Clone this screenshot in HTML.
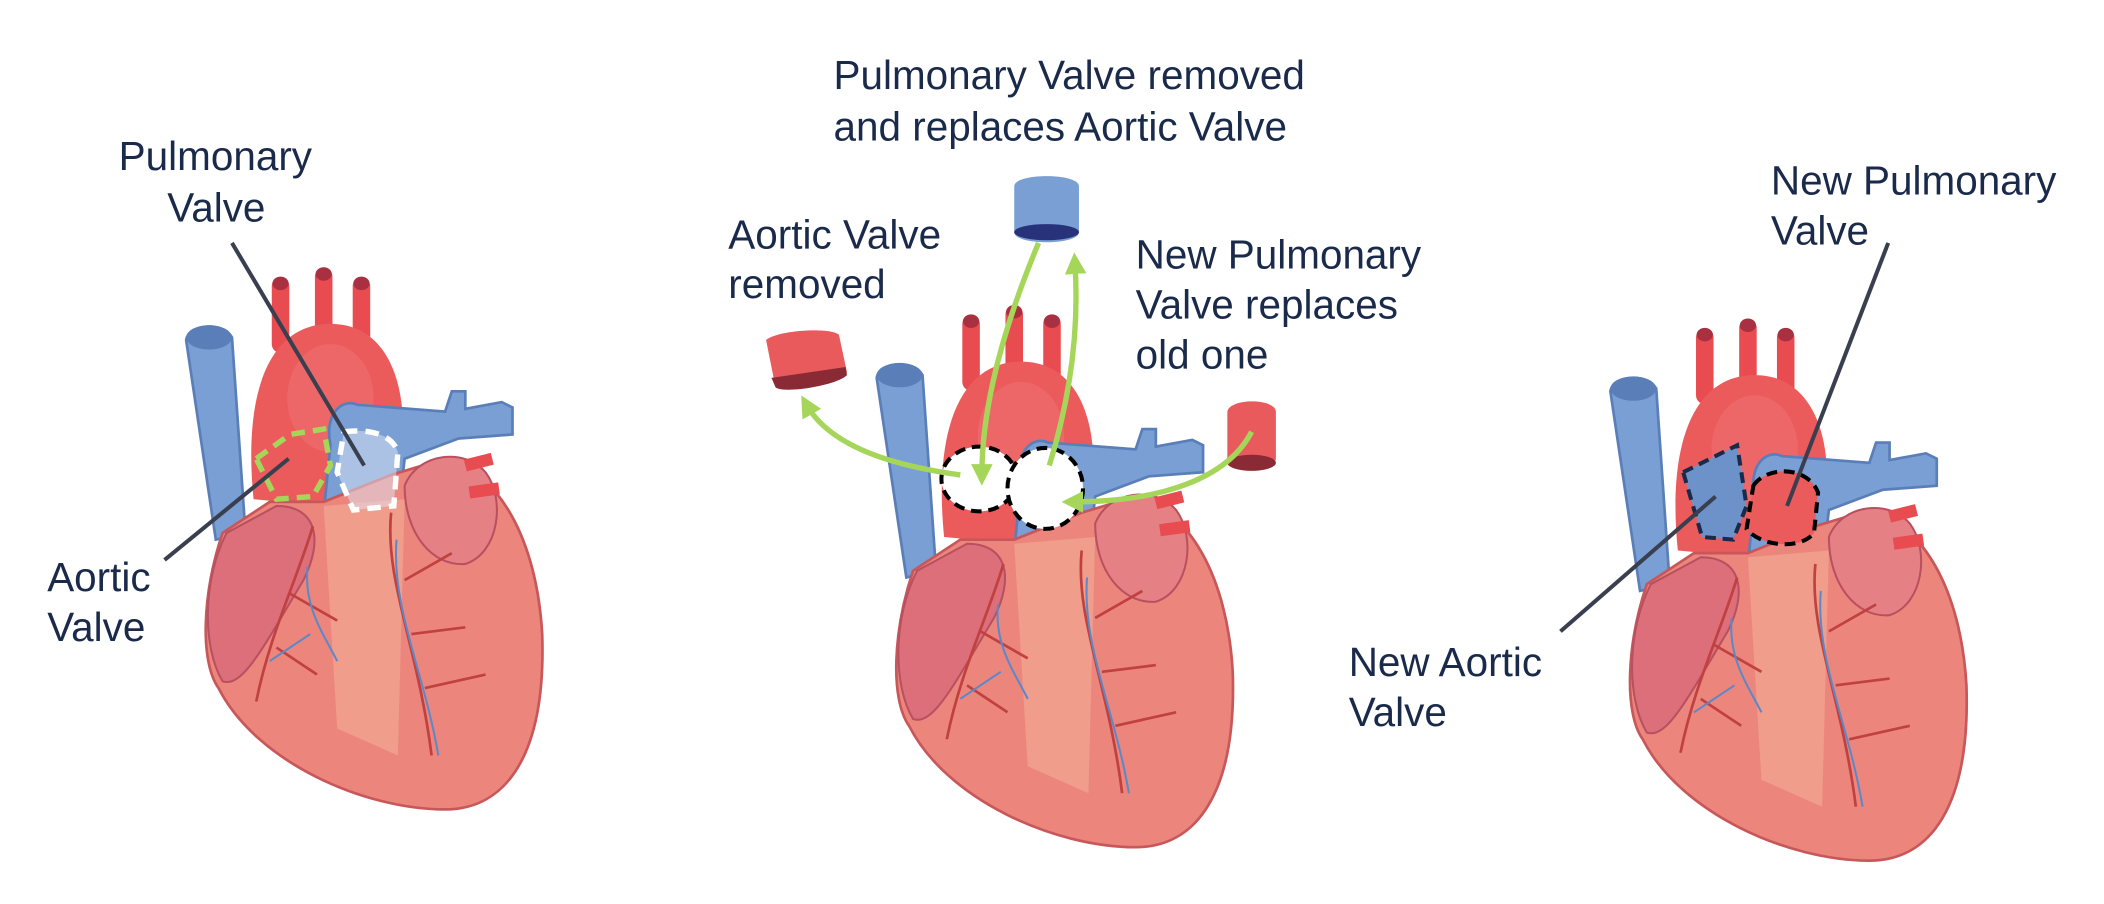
<!DOCTYPE html>
<html><head><meta charset="utf-8"><style>html,body{margin:0;padding:0;background:#fff}svg{display:block}</style></head>
<body>
<svg width="2104" height="904" viewBox="0 0 1560 670" xmlns="http://www.w3.org/2000/svg" font-family="Liberation Sans, sans-serif">
<defs>
<marker id="ah" viewBox="0 0 10 10" refX="5" refY="5" markerWidth="4" markerHeight="4" orient="auto-start-reverse"><path d="M0,0 L10,5 L0,10 z" fill="#a5d65a"/></marker>
<g id="heart">
  <path d="M138,252 C140,240 165,238 172,250 L182,395 L160,400 Z" fill="#7a9fd4" stroke="#5a7fb8" stroke-width="2"/>
  <ellipse cx="155" cy="250" rx="17" ry="9" fill="#5a7fb8"/>
  <g stroke="#e84c50" stroke-width="13" fill="none" stroke-linecap="round">
    <path d="M208,255 L208,212"/><path d="M240,250 L240,205"/><path d="M268,255 L268,212"/>
  </g>
  <ellipse cx="208" cy="210" rx="6" ry="5" fill="#a83040"/><ellipse cx="240" cy="203" rx="6" ry="5" fill="#a83040"/><ellipse cx="268" cy="210" rx="6" ry="5" fill="#a83040"/>
  <path d="M188,370 C180,290 200,240 245,240 C290,240 302,290 298,330 L295,380 Z" fill="#ec5b5c"/>
  <ellipse cx="245" cy="295" rx="32" ry="40" fill="#f07070" opacity="0.6"/>
  <path d="M240,380 L245,330 C240,305 255,295 265,300 L330,305 L335,290 L345,290 L345,303 L372,298 L380,302 L380,322 L340,325 L300,340 L295,385 Z" fill="#7a9fd4" stroke="#5a7fb8" stroke-width="2"/>
  <path d="M165,395 C150,440 148,490 162,510 C190,565 270,600 330,600 C375,600 405,560 402,470 C398,400 370,350 330,340 L290,352 L240,372 L200,372 Z" fill="#ec867d" stroke="#c8575a" stroke-width="2"/>
  <path d="M240,375 L300,370 L295,560 L250,540 Z" fill="#f4b49a" opacity="0.5"/>
  <path d="M168,395 C150,430 150,480 165,505 C180,510 195,480 225,430 C240,400 235,375 205,375 Z" fill="#dc6f7a" stroke="#b85060" stroke-width="1.5"/>
  <path d="M300,360 C310,335 345,332 360,350 C375,370 370,410 345,418 C320,420 300,395 300,360 Z" fill="#e58085" stroke="#b85060" stroke-width="1.5"/>
  <path d="M345,345 L365,340 M348,365 L370,362" stroke="#e84c50" stroke-width="9"/>
  <g fill="none" stroke="#c0413f" stroke-width="2">
    <path d="M290,380 C285,430 310,480 320,560"/><path d="M300,430 L335,410 M305,470 L345,465 M315,510 L360,500"/>
    <path d="M232,390 C220,430 200,470 190,520"/><path d="M215,440 L250,460 M205,480 L235,500"/>
  </g>
  <g fill="none" stroke="#5a88c8" stroke-width="1.5">
    <path d="M294,400 C290,450 315,500 325,560"/><path d="M228,420 C225,450 240,470 250,490 M200,490 L230,470"/>
  </g>
</g>
</defs>

<use href="#heart"/>
<use href="#heart" transform="translate(512,28)"/>
<use href="#heart" transform="translate(1056,38)"/>

<path d="M190,340 L215,322 L240,318 L245,345 L232,368 L205,370 Z" fill="none" stroke="#a5d65a" stroke-width="4" stroke-dasharray="10,6"/>
<path d="M255,320 C270,318 290,320 295,335 L292,375 L262,378 L250,350 Z" fill="#dbe6f5" fill-opacity="0.5" stroke="#fff" stroke-width="4" stroke-dasharray="10,6"/>
<line x1="172" y1="180" x2="270" y2="345" stroke="#3a3f50" stroke-width="3"/>
<line x1="122" y1="415" x2="214" y2="340" stroke="#3a3f50" stroke-width="3"/>

<ellipse cx="726" cy="355" rx="28" ry="24" fill="#fff" stroke="#000" stroke-width="3" stroke-dasharray="8,5"/>
<ellipse cx="775" cy="362" rx="28" ry="30" fill="#fff" stroke="#000" stroke-width="3" stroke-dasharray="8,5"/>

<path d="M1248,350 L1288,330 L1295,375 L1285,400 L1262,398 Z" fill="#6d92c9" stroke="#1a2a4a" stroke-width="3" stroke-dasharray="8,5"/>
<path d="M1300,360 C1310,345 1340,345 1348,365 L1345,395 C1335,408 1305,405 1295,392 Z" fill="#ec5b5c" stroke="#000" stroke-width="3" stroke-dasharray="8,5"/>
<line x1="1400" y1="180" x2="1325" y2="375" stroke="#3a3f50" stroke-width="3"/>
<line x1="1157" y1="468" x2="1272" y2="368" stroke="#3a3f50" stroke-width="3"/>

<path d="M752,138 C752,128 800,128 800,138 L800,172 C800,182 752,182 752,172 Z" fill="#7a9fd4"/>
<ellipse cx="776" cy="172" rx="24" ry="6" fill="#28327a"/>
<path d="M568,252 C575,245 615,242 622,248 L628,276 L575,287 Z" fill="#e85a5c"/>
<path d="M572,280 L627,272 L628,278 C620,286 580,292 575,287 Z" fill="#8a2a35"/>
<path d="M910,305 C912,295 945,295 946,305 L946,340 C945,350 910,350 910,340 Z" fill="#e85a5c"/>
<ellipse cx="928" cy="343" rx="18" ry="6" fill="#8a2a35"/>

<g stroke="#a5d65a" stroke-width="4" fill="none" marker-end="url(#ah)">
<path d="M712,352 C660,345 615,330 598,300"/>
<path d="M770,180 C745,240 728,300 728,352"/>
<path d="M778,345 C795,290 800,240 797,195"/>
<path d="M928,320 C910,355 860,372 795,372"/>
</g>

<g fill="#1a2a4a" font-size="30">
<text x="88" y="126">Pulmonary</text><text x="124" y="164">Valve</text>
<text x="35" y="438">Aortic</text><text x="35" y="475">Valve</text>
<text x="618" y="66">Pulmonary Valve removed</text><text x="618" y="104">and replaces Aortic Valve</text>
<text x="540" y="184">Aortic Valve</text><text x="540" y="221">removed</text>
<text x="842" y="199">New Pulmonary</text><text x="842" y="236">Valve replaces</text><text x="842" y="273">old one</text>
<text x="1313" y="144">New Pulmonary</text><text x="1313" y="181">Valve</text>
<text x="1000" y="501">New Aortic</text><text x="1000" y="538">Valve</text>
</g>
</svg>
</body></html>
